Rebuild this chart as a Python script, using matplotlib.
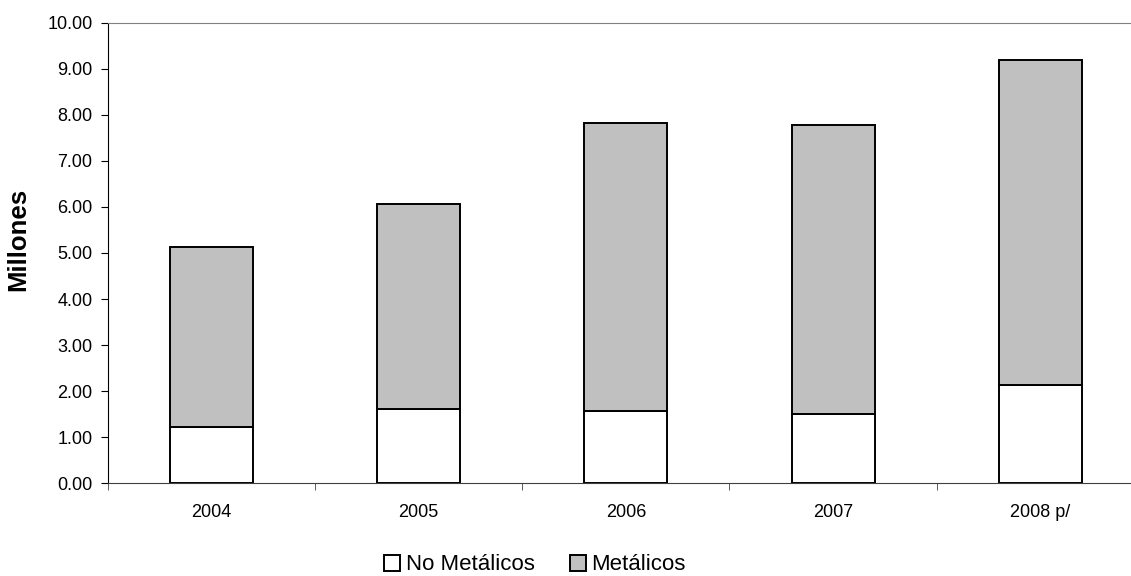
import numpy as np
import matplotlib
matplotlib.use("Agg")
import matplotlib.pyplot as plt

plt.rcParams['font.family'] = ['Liberation Sans', 'DejaVu Sans']

years = ['2004', '2005', '2006', '2007', '2008 p/']
no_metalicos = [1.22, 1.61, 1.57, 1.50, 2.13]
totales = [5.14, 6.06, 7.82, 7.78, 9.19]
metalicos = [t - n for t, n in zip(totales, no_metalicos)]

fig = plt.figure(figsize=(11.31, 5.76), dpi=100)
ax = fig.add_axes([0.0952, 0.161, 0.9163, 0.7996])

x = np.arange(len(years))
ax.bar(x, no_metalicos, width=0.4, color='white', edgecolor='black',
       linewidth=1.4, label='No Metálicos')
ax.bar(x, metalicos, width=0.4, bottom=no_metalicos, color='#c0c0c0',
       edgecolor='black', linewidth=1.4, label='Metálicos')

ax.set_xlim(-0.5, len(years) - 0.5)
ax.set_ylim(0, 10)
ax.set_yticks(np.arange(0, 10.01, 1))
ax.set_yticklabels([f"{v:.2f}" for v in np.arange(0, 10.01, 1)], fontsize=13)

# labels centred in each category, ticks on the boundaries
ax.set_xticks(x)
ax.set_xticklabels(years, fontsize=13)
ax.tick_params(axis='x', which='major', length=0, pad=15)
ax.set_xticks(np.arange(-0.5, len(years)), minor=True)
ax.tick_params(axis='x', which='minor', length=5, direction='out', color='#404040')
ax.tick_params(axis='y', length=5, direction='out', pad=6)

ax.spines['top'].set_color('#808080')
ax.spines['bottom'].set_color('#404040')
ax.spines['left'].set_color('black')
ax.spines['right'].set_visible(False)

ax.set_ylabel('Millones', fontsize=18.5, fontweight='bold')
ax.yaxis.set_label_coords(-0.075, 0.53)

fig.legend(loc='center', bbox_to_anchor=(535 / 1131, 1 - 565 / 576), ncol=2,
           frameon=False, fontsize=16, handlelength=0.7, handleheight=0.7,
           handletextpad=0.25, columnspacing=1.6)

fig.savefig('out.png', dpi=100)
